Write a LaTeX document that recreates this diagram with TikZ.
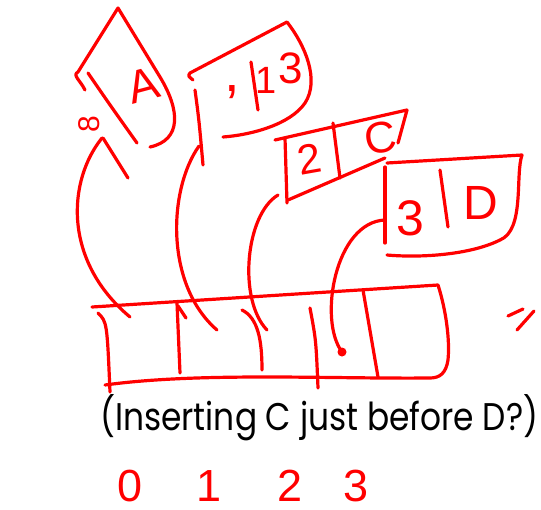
\documentclass[tikz,border=0pt]{standalone}
\usepackage{fontspec}
\newfontfamily\capfont{Poppins}
\newfontfamily\numfont{Liberation Sans}
\newfontfamily\handfont{Liberation Sans}
\begin{document}
\begin{tikzpicture}[x=1pt,y=-1pt,
  pen/.style={draw=red, line width=3.2pt, line cap=round, line join=round},
  hand/.style={text=red, font=\handfont\fontsize{#1}{#1}\selectfont, inner sep=0pt},
  hand/.default=40,
  idx/.style={text=red, font=\numfont\fontsize{45}{45}\selectfont, inner sep=0pt, anchor=base}]
\useasboundingbox (0,0) rectangle (541,509);

% ---- node A (box 0) ----
\draw[pen] (85,90) .. controls (80,80) and (72,75) .. (78,72) -- (118,8) -- (160,77)
  .. controls (180,110) and (182,140) .. (150,147);
\draw[pen] (88,73) .. controls (110,105) .. (137,143);
\node[hand=46, rotate=15] (tA) at (143,85) {A};
\node[hand=30, rotate=90] (t8) at (89,124) {8};
\draw[pen] (103,138) -- (128,178);

% ---- node B (box 1) ----
\draw[pen] (193,80) .. controls (188,76) .. (190,73) -- (287,22)
  .. controls (305,45) and (320,80) .. (305,103) .. controls (290,125) and (250,135) .. (223,137);
\draw[pen] (195,90) .. controls (199,120) .. (203,165);
\draw[pen] (251,62) -- (258,110);
\node[hand=56] (tcomma) at (232,92) {,};
\node[hand=38] (tB1) at (266,80) {1};
\node[hand=44] (tB3) at (291,68) {3};

% ---- node C (box 2) ----
\draw[pen] (275,140) -- (407,110) -- (398,143);
\draw[pen] (288,200) -- (385,158);
\draw[pen] (285,138) -- (287,203);
\draw[pen] (333,123) -- (340,178);
\node[hand=42, rotate=10] (t2) at (309,159) {2};
\node[hand=44, rotate=10] (tC) at (381,138) {C};

% ---- node D (box 3) ----
\draw[pen] (387,163) -- (522,155) .. controls (515,175) and (525,230) .. (500,240)
  .. controls (470,255) and (420,258) .. (387,255);
\draw[pen] (385,167) -- (385,243);
\draw[pen] (440,170) -- (448,227);
\node[hand=50] (t3) at (410,218) {3};
\node[hand=48] (tD) at (481,203) {D};

% ---- array ----
\draw[pen] (92,307) -- (438,285) .. controls (446,310) and (450,340) .. (448,360)
  .. controls (446,373) and (440,378) .. (430,378)
  .. controls (330,379) and (200,372) .. (105,385);
\draw[pen] (98,313) .. controls (107,322) .. (110,392);
\draw[pen] (177,303) -- (180,373);
\draw[pen] (178,306) -- (186,318);
\draw[pen] (242,310) .. controls (258,318) and (262,340) .. (262,370);
\draw[pen] (310,308) .. controls (316,340) .. (318,388);
\draw[pen] (363,290) -- (378,377);

% ---- pointers ----
\coordinate (p1s) at (102,138); \coordinate (p1e) at (130,317);
\coordinate (p2s) at (199,146); \coordinate (p2e) at (217,330);
\coordinate (p3s) at (278,195); \coordinate (p3e) at (267,330);
\coordinate (p4s) at (385,220); \coordinate (p4e) at (342,352);
\draw[pen] (p1s) .. controls (68,180) and (62,260) .. (p1e);
\draw[pen] (p2s) .. controls (168,190) and (165,285) .. (p2e);
\draw[pen] (p3s) .. controls (245,215) and (238,300) .. (p3e);
\draw[pen] (p4s) .. controls (335,222) and (318,320) .. (p4e);
\fill[red] (p4e) circle (4.5);

% ---- side mark ----
\draw[pen] (508,316) -- (523,309);
\draw[pen] (517,330) -- (534,311);

% ---- caption ----
\node[anchor=base west, inner sep=0pt] (cap) at (100,430)
  {\resizebox{438pt}{36pt}{\capfont (Inserting C just before D?)}};

% ---- indices ----
\node[idx] (i0) at (130,501) {0};
\node[idx] (i1) at (209,501) {1};
\node[idx] (i2) at (290,501) {2};
\node[idx] (i3) at (356,501) {3};
\end{tikzpicture}
\end{document}
